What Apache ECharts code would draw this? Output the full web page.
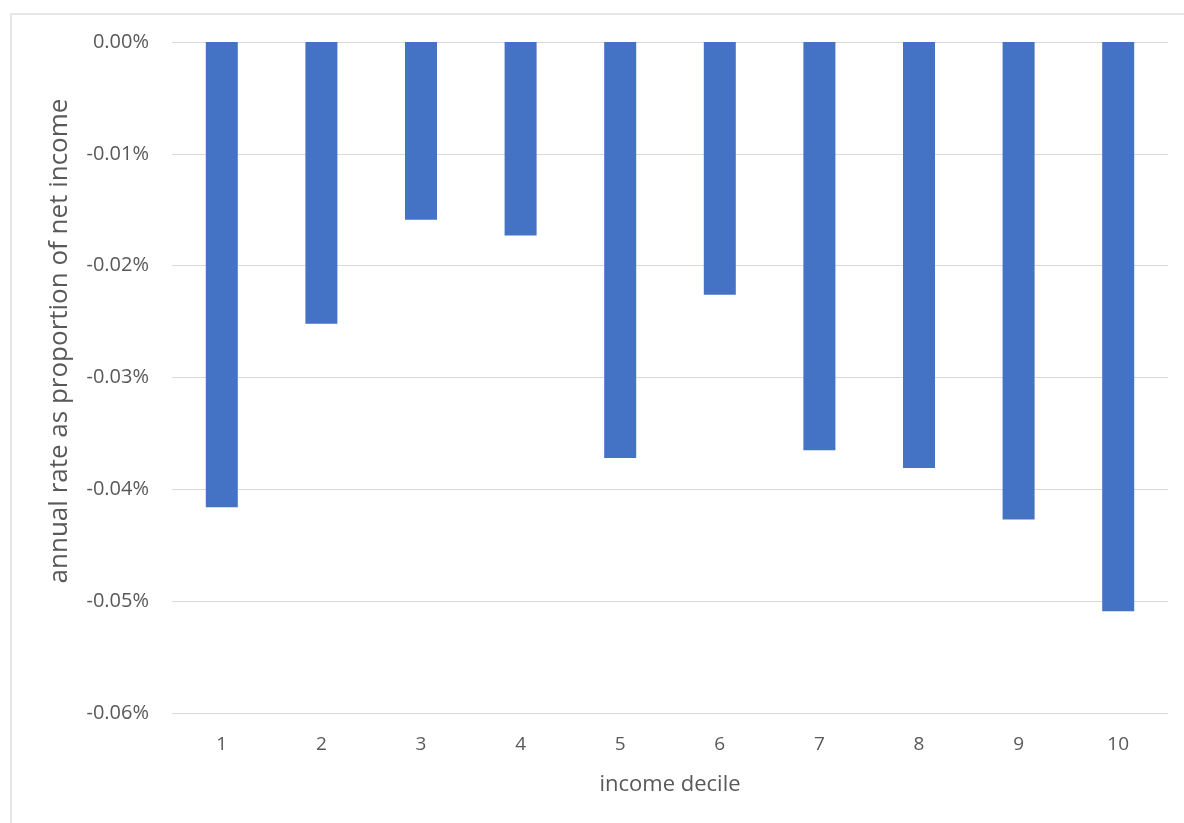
<!DOCTYPE html>
<html>
<head>
<meta charset="utf-8">
<script src="https://cdn.jsdelivr.net/npm/echarts@6/dist/echarts.min.js"></script>
<style>
  html, body { margin: 0; padding: 0; background: #fff; }
  #frame { position: absolute; left: 10px; top: 13px; width: 1184px; height: 823px;
           border-left: 2px solid #e6e6e6; border-top: 2px solid #e6e6e6; }
  #chart { position: absolute; left: 0; top: 0; width: 1184px; height: 823px; }
</style>
</head>
<body>
<div id="frame"></div>
<div id="chart"></div>
<script>
// income deciles and annual rate (% of net income)
const deciles = ['1', '2', '3', '4', '5', '6', '7', '8', '9', '10']
const rates = [-0.0416, -0.0252, -0.0159, -0.0173, -0.0372, -0.0226, -0.0365, -0.0381, -0.0427, -0.0509]
const yTitle = 'annual rate as proportion of net income'

const textColor = '#595959'
const font = 'Open Sans, Liberation Sans, sans-serif'

let myChart = echarts.init(document.getElementById('chart'))
myChart.setOption({
    animation: false,
    grid: { left: 172, right: 16, top: 42, bottom: 110 },
    // y title sits a bit above the plot centre in the original, so place it by hand
    graphic: [{
        type: 'text',
        x: 60,
        y: 341,
        rotation: Math.PI / 2,
        style: {
            text: yTitle,
            fill: textColor,
            fontSize: 26,
            fontFamily: font,
            align: 'center',
            verticalAlign: 'middle'
        }
    }],
    xAxis: {
        type: 'category',
        data: deciles,
        position: 'bottom',
        name: 'income decile',
        nameLocation: 'middle',
        nameGap: 61,
        nameTextStyle: { color: textColor, fontSize: 22, fontFamily: font },
        axisLine: { show: false },
        axisTick: { show: false },
        axisLabel: { color: textColor, fontSize: 19, fontFamily: font, margin: 22 }
    },
    yAxis: {
        type: 'value',
        min: -0.06,
        max: 0,
        interval: 0.01,
        axisLine: { show: false },
        axisTick: { show: false },
        axisLabel: {
            color: textColor, fontSize: 20, fontFamily: font, margin: 23,
            formatter: v => v.toFixed(2) + '%'
        },
        splitLine: { lineStyle: { color: '#d9d9d9', width: 1 } }
    },
    series: [{
        type: 'bar',
        data: rates,
        barWidth: 32,
        itemStyle: { color: '#4472c4' }
    }]
})
</script>
</body>
</html>
